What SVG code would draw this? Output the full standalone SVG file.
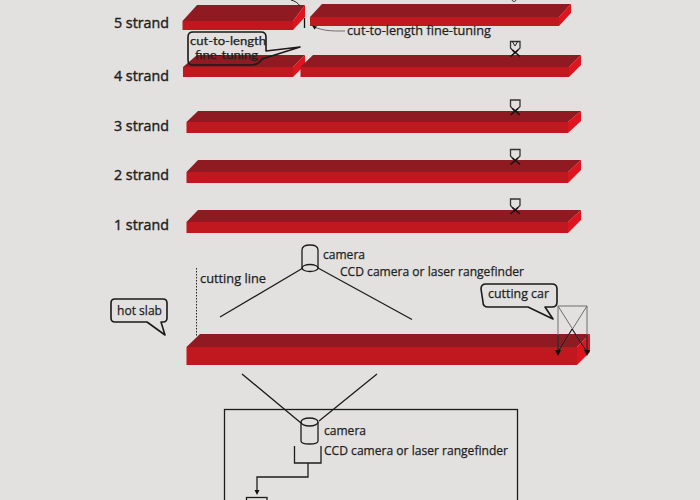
<svg xmlns="http://www.w3.org/2000/svg" width="700" height="500" viewBox="0 0 700 500">
<style>
.bg{fill:#e2e1df}
.top{fill:#8f1a22}
.front{fill:#c1171f}
.side{fill:#e0141e}
.ln{fill:none;stroke:#1c1c1c;stroke-width:1.3}
.th{fill:none;stroke:#222;stroke-width:1}
.call{fill:none;stroke:#1a1a1a;stroke-width:1.6;stroke-linejoin:round}
.gr{fill:none;stroke:#6e6e6e;stroke-width:1}
.ar{fill:#111}
text{font-family:"Open Sans","Liberation Sans",sans-serif;fill:#1e1e1e;stroke:#1e1e1e;stroke-width:.25}
.s{font-size:14.5px;stroke-width:.4}
.t{font-size:12px}
.c{font-family:Lato,"Liberation Sans",sans-serif;font-size:11px}
</style>
<defs>
<g id="knife"><path class="gr" style="stroke:#333;stroke-width:1.3" d="M510.500 0.500H520V7L515 12L510.500 7Z"/><path style="fill:none;stroke:#111;stroke-width:1.500" d="M510.500 15.500L518 9M520 15.500L512.500 9"/></g>
</defs>
<rect class="bg" width="700" height="500"/>
<g id="strand-5">
<path class="top" d="M182.500 21L197 5H305L293 21Z"/><path class="side" d="M293 21L305 5V17L293 30Z"/><rect class="front" x="182.500" y="21" width="110.500" height="9"/>
<path class="top" d="M310 17L322 4H571L559 17Z"/><path class="side" d="M559 17L571 4V13L559 26Z"/><rect class="front" x="310" y="17" width="249" height="9"/>
<text class="s" x="114" y="28" textLength="55" lengthAdjust="spacingAndGlyphs">5 strand</text>
<text class="t" x="347" y="35" textLength="144" lengthAdjust="spacingAndGlyphs">cut-to-length fine-tuning</text>
<path d="M512 0C513 2 515 2 516 0" class="th"/>
</g>
<g id="strand-4">
<path class="top" d="M183 67L197 55H305L293 67Z"/><path class="side" d="M293 67L305 55V65L293 77Z"/><rect class="front" x="183" y="67" width="110" height="10"/>
<path class="top" d="M300.500 67L313 55H581L569 67Z"/><path class="side" d="M569 67L581 55V65L569 77Z"/><rect class="front" x="300.500" y="67" width="268.500" height="10"/>
<text class="s" x="114" y="81" textLength="55" lengthAdjust="spacingAndGlyphs">4 strand</text>
<use href="#knife" y="41"/><path d="M512 41L515 46L518 41" class="th"/>
</g>
<g id="strand-3">
<path class="top" d="M186.500 122L198 111H581L568 122Z"/><path class="side" d="M568 122L581 111V121L568 133Z"/><rect class="front" x="186.500" y="122" width="381.500" height="11"/>
<text class="s" x="114" y="131" textLength="55" lengthAdjust="spacingAndGlyphs">3 strand</text>
<use href="#knife" y="99.500"/>
</g>
<g id="strand-2">
<path class="top" d="M186.500 172L198 160H581L568 172Z"/><path class="side" d="M568 172L581 160V170L568 183Z"/><rect class="front" x="186.500" y="172" width="381.500" height="11"/>
<text class="s" x="114" y="180" textLength="55" lengthAdjust="spacingAndGlyphs">2 strand</text>
<use href="#knife" y="149"/>
</g>
<g id="strand-1">
<path class="top" d="M186.500 222L198 210H581L568 222Z"/><path class="side" d="M568 222L581 210V220L568 233Z"/><rect class="front" x="186.500" y="222" width="381.500" height="11"/>
<text class="s" x="114" y="230" textLength="55" lengthAdjust="spacingAndGlyphs">1 strand</text>
<use href="#knife" y="198.500"/>
</g>
<g id="hot-slab">
<path class="top" d="M186.500 347L200 334H590L577 347Z"/><path class="side" d="M577 347L590 334V352L577 365Z"/><rect class="front" x="186.500" y="347" width="390.500" height="18"/>
</g>
<g id="callout-fine-tuning">
<path class="call" d="M193 32H261Q266 32 266 37V51L300 47L262 59Q258 65 252 65H193Q188 65 188 60V37Q188 32 193 32Z"/>
<text class="c" x="190" y="44.500" textLength="76" lengthAdjust="spacingAndGlyphs">cut-to-length</text>
<text class="c" x="195" y="58.500" textLength="63" lengthAdjust="spacingAndGlyphs">fine-tuning</text>
</g>
<g id="callout-hot-slab">
<path class="call" d="M115 299H163Q167 299 167 303V318Q167 322 163 322H161L165 335L147 322H115Q111 322 111 318V303Q111 299 115 299Z"/>
<text class="t" x="117" y="315" textLength="45" lengthAdjust="spacingAndGlyphs">hot slab</text>
</g>
<g id="callout-cutting-car">
<path class="call" d="M486 284H552Q557 284 557 289V302Q557 307 552 307H545L553 319L528 307H488Q483 307 483 302L481 289Q481 284 486 284Z"/>
<text class="t" x="488" y="298" textLength="61" lengthAdjust="spacingAndGlyphs">cutting car</text>
</g>
<g id="camera-top">
<path class="ln" d="M302 268V250Q302 245 310 245Q318 245 318 250V268"/><ellipse class="ln" cx="310" cy="268" rx="8" ry="3.500"/>
<text class="t" x="323" y="259" textLength="42" lengthAdjust="spacingAndGlyphs">camera</text>
<text class="t" x="340" y="276" textLength="184" lengthAdjust="spacingAndGlyphs">CCD camera or laser rangefinder</text>
</g>
<g id="cutting-line">
<path d="M196.500 268V336" style="fill:none;stroke:#222;stroke-width:1;stroke-dasharray:1.500 1.500"/>
<text class="t" x="200" y="283" textLength="66" lengthAdjust="spacingAndGlyphs">cutting line</text>
</g>
<g id="camera-bottom">
<path class="ln" d="M301 422V441Q301 444 309.500 444Q318 444 318 441V422"/><ellipse class="ln" cx="309.500" cy="422" rx="8.500" ry="4"/>
<text class="t" x="324" y="435" textLength="42" lengthAdjust="spacingAndGlyphs">camera</text>
<text class="t" x="324" y="455" textLength="184" lengthAdjust="spacingAndGlyphs">CCD camera or laser rangefinder</text>
</g>
<g id="controller">
<rect class="ln" x="224.500" y="409.500" width="293" height="100"/>
<rect class="ln" x="246.500" y="497.500" width="20.500" height="10"/>
</g>
<g id="cutting-car">
<path class="gr" d="M558 352V306H587V352M558 306L587 352M587 306L558 352"/>
<path style="fill:none;stroke:#111;stroke-width:1" d="M558 335V352M587 335V352M572 329L587 352M572 329L558 352"/>
<path class="ar" d="M555 350H561L558 356ZM584 350H590L587 356Z"/>
</g>
<g id="connectors">
<path style="fill:none;stroke:#111;stroke-width:1.300" d="M304.500 18V28"/>
<path class="gr" d="M345 31C330 31 325 31 314 27"/>
<path class="ar" d="M312 25.500L317 26.500L314.500 29.500Z"/>
<path d="M291 0C295 1 298 3 300 6" class="th"/>
<path class="ln" d="M303 268L220 317M318 268L412 319.500"/>
<path class="ln" d="M242 374L301 423M377 374L319 421"/>
<path class="ln" d="M294.500 446V463H321V446M308 463V477H257V491"/>
<path class="ar" d="M254.500 490H259.500L257 495Z"/>
</g>
</svg>
